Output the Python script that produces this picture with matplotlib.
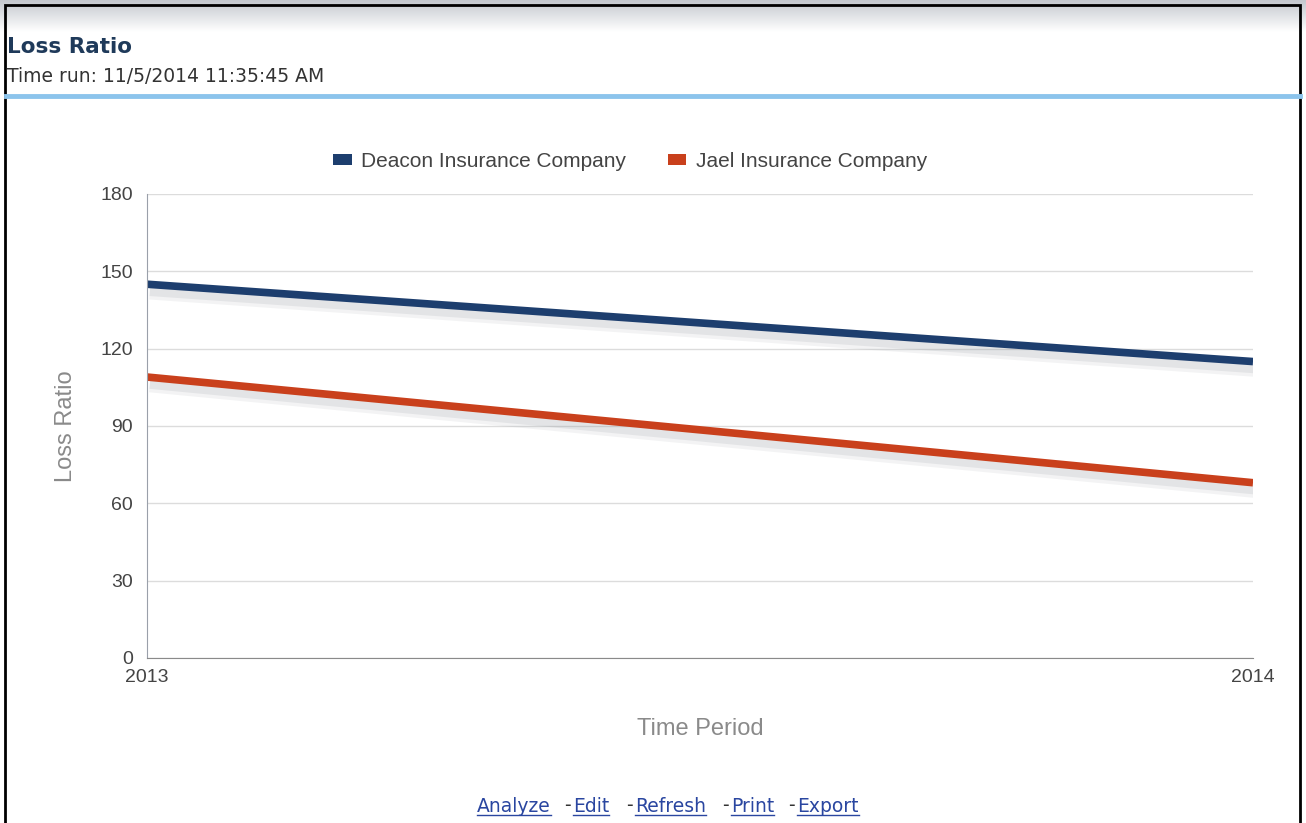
import matplotlib
matplotlib.use("Agg")
import matplotlib.pyplot as plt
import matplotlib.patheffects as pe
from matplotlib.patches import Rectangle, Patch
import numpy as np

years = ["2013", "2014"]
deacon = [145, 115]
jael = [109, 68]
series_names = ["Deacon Insurance Company", "Jael Insurance Company"]
yticks = [0, 30, 60, 90, 120, 150, 180]

W, H = 1306, 823
fig = plt.figure(figsize=(W/100, H/100), dpi=100)
fig.patch.set_facecolor("white")
CF = "Liberation Sans"

# header gradient
grad = np.linspace(0, 1, 50).reshape(-1, 1)
hax = fig.add_axes([0, 1-32/H, 1, 32/H])
hax.imshow(grad, aspect="auto", cmap=matplotlib.colors.LinearSegmentedColormap.from_list("g", ["#c4c8ce", "#ffffff"]))
hax.axis("off")

# frame
fig.add_artist(Rectangle((5/W, -0.01), (1300-5)/W, 1 - 5/H + 0.01, transform=fig.transFigure,
                         fill=False, edgecolor="black", lw=2))
# blue separator line
fig.add_artist(plt.Line2D([6/W, 1300/W], [1-96/H, 1-96/H], transform=fig.transFigure,
                          color="#8cc4ec", lw=3.5))

fig.text(7/W, 1-47/H, "Loss Ratio", fontsize=15.5, fontweight="bold", color="#1f3a5a",
         family="DejaVu Sans", va="center")
fig.text(7/W, 1-76/H, "Time run: 11/5/2014 11:35:45 AM", fontsize=13.5, color="#333333",
         family="DejaVu Sans", va="center")

ax = fig.add_axes([147/W, 1-658/H, (1253-147)/W, (658-194)/H])
x = np.arange(len(years))
colors = ["#1d3e6e", "#c9401c"]
for vals, c, name in zip([deacon, jael], colors, series_names):
    ax.plot(x, vals, color=c, lw=5.5, solid_capstyle="butt",
            path_effects=[pe.SimpleLineShadow(offset=(2, -5), shadow_color="#8a9098", alpha=0.10, linewidth=12),
                          pe.SimpleLineShadow(offset=(2, -5), shadow_color="#8a9098", alpha=0.15, linewidth=7),
                          pe.Normal()])

ax.set_xlim(0, 1)
ax.set_ylim(0, 180)
ax.set_yticks(yticks)
ax.set_xticks(x)
ax.set_xticklabels(years)
ax.grid(axis="y", color="#dcdcdc", lw=1)
ax.set_axisbelow(True)
for s in ["top", "right"]:
    ax.spines[s].set_visible(False)
ax.spines["left"].set_color("#9aa0aa")
ax.spines["bottom"].set_color("#8a8a8a")
ax.tick_params(axis="both", length=0, colors="#444444", labelsize=14)
for lbl in ax.get_xticklabels() + ax.get_yticklabels():
    lbl.set_family(CF)
ax.tick_params(axis="y", pad=10)
ax.tick_params(axis="x", pad=8)
ax.set_ylabel("Loss Ratio", fontsize=17, color="#8a8a8a", labelpad=17, family=CF)
ax.set_xlabel("Time Period", fontsize=17, color="#8a8a8a", labelpad=23, family=CF)

handles = [Patch(facecolor=c, edgecolor="none") for c in colors]
leg = ax.legend(handles, series_names, loc="lower center", bbox_to_anchor=((630-147)/1106, 1.05), ncol=2,
                frameon=False, prop={"family": CF, "size": 15}, handlelength=0.9, handleheight=0.4,
                columnspacing=2.0, handletextpad=0.45, borderaxespad=0, borderpad=0)
for t in leg.get_texts():
    t.set_color("#444444")

# footer links
links = ["Analyze", "Edit", "Refresh", "Print", "Export"]
link_x = [477, 573, 635, 731, 797]
dash_x = [564, 626, 722, 788]
fig.canvas.draw()
r = fig.canvas.get_renderer()
for s, xp in zip(links, link_x):
    t = fig.text(xp/W, 1-806/H, s, fontsize=13.5, color="#2a46a0", va="center", ha="left", family="DejaVu Sans")
    bb = t.get_window_extent(r)
    fig.add_artist(plt.Line2D([bb.x0/W, bb.x1/W], [(bb.y0+1)/H, (bb.y0+1)/H],
                              transform=fig.transFigure, color="#2a46a0", lw=1))
for xp in dash_x:
    fig.text(xp/W, 1-805/H, "-", fontsize=13.5, color="#333333", va="center", ha="left", family="DejaVu Sans")

fig.savefig("out.png", dpi=100)
